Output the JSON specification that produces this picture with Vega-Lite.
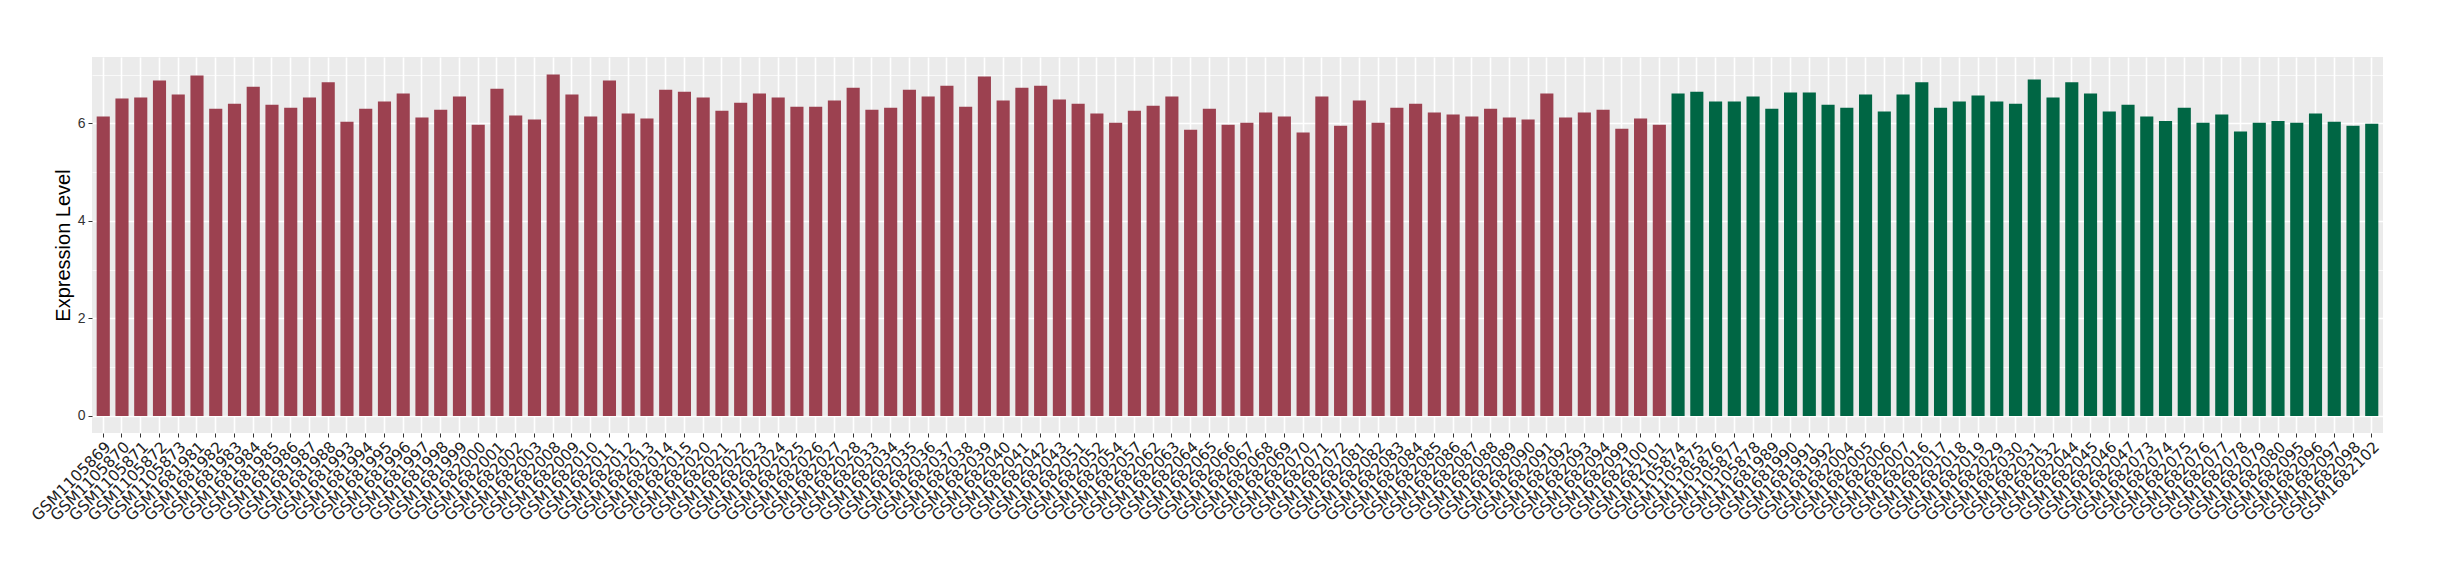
{
  "$schema": "https://vega.github.io/schema/vega-lite/v6.json",
  "autosize": {"type": "none"},
  "padding": {"left": 92, "top": 57, "right": 57, "bottom": 147},
  "width": 2291,
  "height": 376,
  "background": "white",
  "config": {
    "view": {"fill": "#EBEBEB", "stroke": null}
  },
  "data": {
    "values": [
      {"sample": "GSM1105869", "group": "G1", "value": 6.14},
      {"sample": "GSM1105870", "group": "G1", "value": 6.51},
      {"sample": "GSM1105871", "group": "G1", "value": 6.53},
      {"sample": "GSM1105872", "group": "G1", "value": 6.88},
      {"sample": "GSM1105873", "group": "G1", "value": 6.59},
      {"sample": "GSM1681981", "group": "G1", "value": 6.98},
      {"sample": "GSM1681982", "group": "G1", "value": 6.30},
      {"sample": "GSM1681983", "group": "G1", "value": 6.40},
      {"sample": "GSM1681984", "group": "G1", "value": 6.75},
      {"sample": "GSM1681985", "group": "G1", "value": 6.38},
      {"sample": "GSM1681986", "group": "G1", "value": 6.32},
      {"sample": "GSM1681987", "group": "G1", "value": 6.53},
      {"sample": "GSM1681988", "group": "G1", "value": 6.84},
      {"sample": "GSM1681993", "group": "G1", "value": 6.03},
      {"sample": "GSM1681994", "group": "G1", "value": 6.30},
      {"sample": "GSM1681995", "group": "G1", "value": 6.45},
      {"sample": "GSM1681996", "group": "G1", "value": 6.61},
      {"sample": "GSM1681997", "group": "G1", "value": 6.12},
      {"sample": "GSM1681998", "group": "G1", "value": 6.28},
      {"sample": "GSM1681999", "group": "G1", "value": 6.55},
      {"sample": "GSM1682000", "group": "G1", "value": 5.97},
      {"sample": "GSM1682001", "group": "G1", "value": 6.71},
      {"sample": "GSM1682002", "group": "G1", "value": 6.16},
      {"sample": "GSM1682003", "group": "G1", "value": 6.08},
      {"sample": "GSM1682008", "group": "G1", "value": 7.00},
      {"sample": "GSM1682009", "group": "G1", "value": 6.59},
      {"sample": "GSM1682010", "group": "G1", "value": 6.14},
      {"sample": "GSM1682011", "group": "G1", "value": 6.88},
      {"sample": "GSM1682012", "group": "G1", "value": 6.20},
      {"sample": "GSM1682013", "group": "G1", "value": 6.10},
      {"sample": "GSM1682014", "group": "G1", "value": 6.69},
      {"sample": "GSM1682015", "group": "G1", "value": 6.65},
      {"sample": "GSM1682020", "group": "G1", "value": 6.53},
      {"sample": "GSM1682021", "group": "G1", "value": 6.26},
      {"sample": "GSM1682022", "group": "G1", "value": 6.42},
      {"sample": "GSM1682023", "group": "G1", "value": 6.61},
      {"sample": "GSM1682024", "group": "G1", "value": 6.53},
      {"sample": "GSM1682025", "group": "G1", "value": 6.34},
      {"sample": "GSM1682026", "group": "G1", "value": 6.34},
      {"sample": "GSM1682027", "group": "G1", "value": 6.47},
      {"sample": "GSM1682028", "group": "G1", "value": 6.73},
      {"sample": "GSM1682033", "group": "G1", "value": 6.28},
      {"sample": "GSM1682034", "group": "G1", "value": 6.32},
      {"sample": "GSM1682035", "group": "G1", "value": 6.69},
      {"sample": "GSM1682036", "group": "G1", "value": 6.55},
      {"sample": "GSM1682037", "group": "G1", "value": 6.77},
      {"sample": "GSM1682038", "group": "G1", "value": 6.34},
      {"sample": "GSM1682039", "group": "G1", "value": 6.96},
      {"sample": "GSM1682040", "group": "G1", "value": 6.47},
      {"sample": "GSM1682041", "group": "G1", "value": 6.73},
      {"sample": "GSM1682042", "group": "G1", "value": 6.77},
      {"sample": "GSM1682043", "group": "G1", "value": 6.49},
      {"sample": "GSM1682051", "group": "G1", "value": 6.40},
      {"sample": "GSM1682052", "group": "G1", "value": 6.20},
      {"sample": "GSM1682054", "group": "G1", "value": 6.01},
      {"sample": "GSM1682057", "group": "G1", "value": 6.26},
      {"sample": "GSM1682062", "group": "G1", "value": 6.36},
      {"sample": "GSM1682063", "group": "G1", "value": 6.55},
      {"sample": "GSM1682064", "group": "G1", "value": 5.87},
      {"sample": "GSM1682065", "group": "G1", "value": 6.30},
      {"sample": "GSM1682066", "group": "G1", "value": 5.97},
      {"sample": "GSM1682067", "group": "G1", "value": 6.01},
      {"sample": "GSM1682068", "group": "G1", "value": 6.22},
      {"sample": "GSM1682069", "group": "G1", "value": 6.14},
      {"sample": "GSM1682070", "group": "G1", "value": 5.81},
      {"sample": "GSM1682071", "group": "G1", "value": 6.55},
      {"sample": "GSM1682072", "group": "G1", "value": 5.95},
      {"sample": "GSM1682081", "group": "G1", "value": 6.47},
      {"sample": "GSM1682082", "group": "G1", "value": 6.01},
      {"sample": "GSM1682083", "group": "G1", "value": 6.32},
      {"sample": "GSM1682084", "group": "G1", "value": 6.40},
      {"sample": "GSM1682085", "group": "G1", "value": 6.22},
      {"sample": "GSM1682086", "group": "G1", "value": 6.18},
      {"sample": "GSM1682087", "group": "G1", "value": 6.14},
      {"sample": "GSM1682088", "group": "G1", "value": 6.30},
      {"sample": "GSM1682089", "group": "G1", "value": 6.12},
      {"sample": "GSM1682090", "group": "G1", "value": 6.08},
      {"sample": "GSM1682091", "group": "G1", "value": 6.61},
      {"sample": "GSM1682092", "group": "G1", "value": 6.12},
      {"sample": "GSM1682093", "group": "G1", "value": 6.22},
      {"sample": "GSM1682094", "group": "G1", "value": 6.28},
      {"sample": "GSM1682099", "group": "G1", "value": 5.89},
      {"sample": "GSM1682100", "group": "G1", "value": 6.10},
      {"sample": "GSM1682101", "group": "G1", "value": 5.97},
      {"sample": "GSM1105874", "group": "G2", "value": 6.61},
      {"sample": "GSM1105875", "group": "G2", "value": 6.65},
      {"sample": "GSM1105876", "group": "G2", "value": 6.45},
      {"sample": "GSM1105877", "group": "G2", "value": 6.45},
      {"sample": "GSM1105878", "group": "G2", "value": 6.55},
      {"sample": "GSM1681989", "group": "G2", "value": 6.30},
      {"sample": "GSM1681990", "group": "G2", "value": 6.63},
      {"sample": "GSM1681991", "group": "G2", "value": 6.63},
      {"sample": "GSM1681992", "group": "G2", "value": 6.38},
      {"sample": "GSM1682004", "group": "G2", "value": 6.32},
      {"sample": "GSM1682005", "group": "G2", "value": 6.59},
      {"sample": "GSM1682006", "group": "G2", "value": 6.24},
      {"sample": "GSM1682007", "group": "G2", "value": 6.59},
      {"sample": "GSM1682016", "group": "G2", "value": 6.84},
      {"sample": "GSM1682017", "group": "G2", "value": 6.32},
      {"sample": "GSM1682018", "group": "G2", "value": 6.45},
      {"sample": "GSM1682019", "group": "G2", "value": 6.57},
      {"sample": "GSM1682029", "group": "G2", "value": 6.45},
      {"sample": "GSM1682030", "group": "G2", "value": 6.40},
      {"sample": "GSM1682031", "group": "G2", "value": 6.90},
      {"sample": "GSM1682032", "group": "G2", "value": 6.53},
      {"sample": "GSM1682044", "group": "G2", "value": 6.84},
      {"sample": "GSM1682045", "group": "G2", "value": 6.61},
      {"sample": "GSM1682046", "group": "G2", "value": 6.24},
      {"sample": "GSM1682047", "group": "G2", "value": 6.38},
      {"sample": "GSM1682073", "group": "G2", "value": 6.14},
      {"sample": "GSM1682074", "group": "G2", "value": 6.05},
      {"sample": "GSM1682075", "group": "G2", "value": 6.32},
      {"sample": "GSM1682076", "group": "G2", "value": 6.01},
      {"sample": "GSM1682077", "group": "G2", "value": 6.18},
      {"sample": "GSM1682078", "group": "G2", "value": 5.83},
      {"sample": "GSM1682079", "group": "G2", "value": 6.01},
      {"sample": "GSM1682080", "group": "G2", "value": 6.05},
      {"sample": "GSM1682095", "group": "G2", "value": 6.01},
      {"sample": "GSM1682096", "group": "G2", "value": 6.20},
      {"sample": "GSM1682097", "group": "G2", "value": 6.03},
      {"sample": "GSM1682098", "group": "G2", "value": 5.95},
      {"sample": "GSM1682102", "group": "G2", "value": 5.99}
    ]
  },
  "encoding": {
    "x": {
      "field": "sample",
      "type": "nominal",
      "sort": null,
      "scale": {"paddingInner": 0.3, "paddingOuter": 0.25},
      "axis": {
        "title": null,
        "labelAngle": -45,
        "labelAlign": "right",
        "labelBaseline": "top",
        "labelFont": "DejaVu Sans",
        "labelFontSize": 15.5,
        "labelColor": "#222222",
        "labelPadding": 2,
        "labelOverlap": false,
        "labelLimit": 0,
        "tickColor": "#333333",
        "tickSize": 4,
        "tickWidth": 1,
        "bandPosition": 0.5,
        "domain": false,
        "grid": true,
        "gridColor": "white",
        "gridWidth": 1.6
      }
    }
  },
  "layer": [
    {
      "mark": {"type": "bar", "opacity": 0},
      "encoding": {
        "y": {
          "field": "value",
          "type": "quantitative",
          "scale": {"domain": [-0.35, 7.36], "nice": false, "zero": false},
          "axis": {
            "orient": "right",
            "values": [1, 3, 5, 7],
            "labels": false,
            "ticks": false,
            "domain": false,
            "title": null,
            "grid": true,
            "gridColor": "white",
            "gridWidth": 0.7
          }
        },
        "y2": {"datum": 0}
      }
    },
    {
      "mark": {"type": "bar"},
      "encoding": {
        "y": {
          "field": "value",
          "type": "quantitative",
          "scale": {"domain": [-0.35, 7.36], "nice": false, "zero": false},
          "axis": {
            "orient": "left",
            "values": [0, 2, 4, 6],
            "title": "Expression Level",
            "titleFont": "Liberation Sans",
            "titleFontSize": 20,
            "titleFontWeight": "normal",
            "titleColor": "black",
            "titlePadding": 4,
            "labelFont": "Liberation Sans",
            "labelFontSize": 14,
            "labelColor": "#333333",
            "labelPadding": 3,
            "tickColor": "#333333",
            "tickSize": 4,
            "domain": false,
            "grid": true,
            "gridColor": "white",
            "gridWidth": 1.6
          }
        },
        "y2": {"datum": 0},
        "color": {
          "field": "group",
          "type": "nominal",
          "scale": {"domain": ["G1", "G2"], "range": ["#9C4150", "#006644"]},
          "legend": null
        }
      }
    }
  ],
  "resolve": {"axis": {"y": "independent"}}
}
